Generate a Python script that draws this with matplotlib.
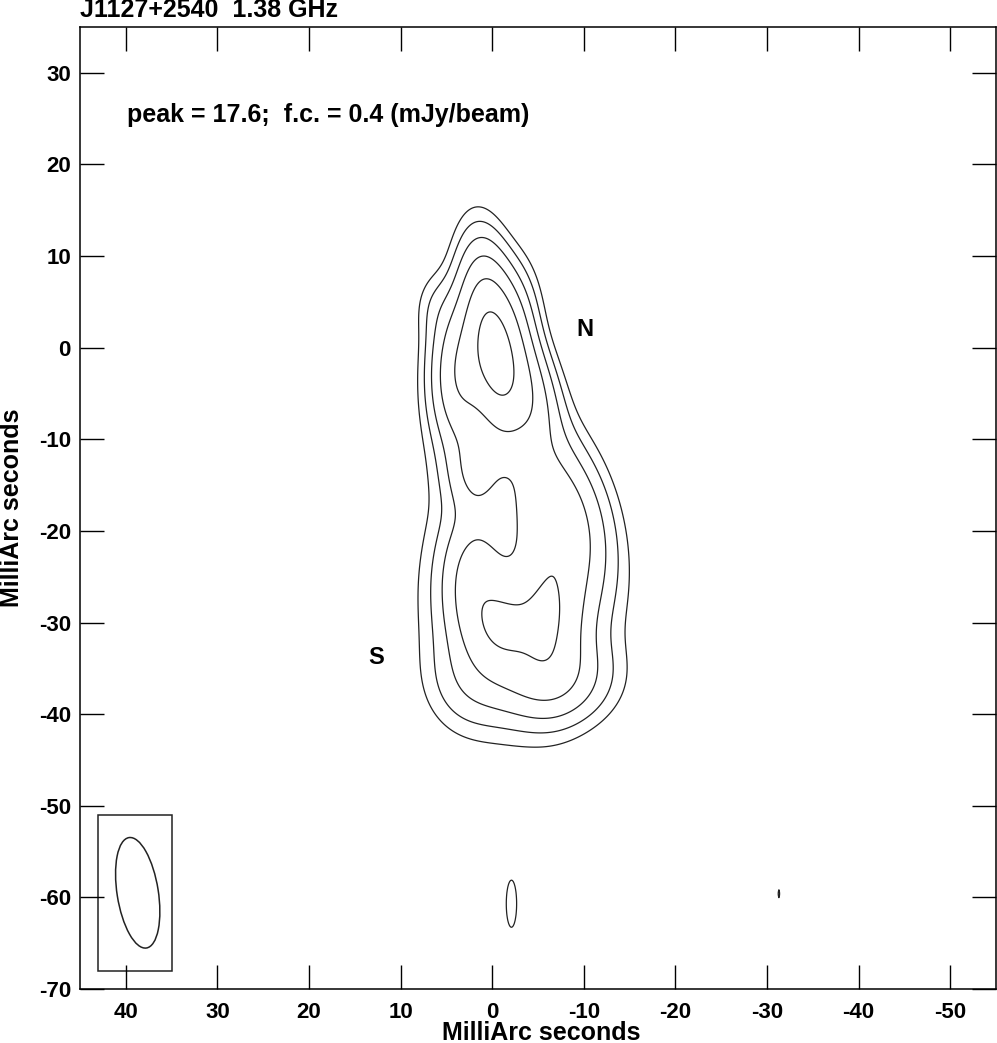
import numpy as np
import matplotlib
matplotlib.use("Agg")
import matplotlib.pyplot as plt
from matplotlib.patches import Ellipse, Rectangle

# ---------- data ----------
SOURCE = "J1127+2540"
FREQ = "1.38 GHz"
PEAK = 17.6          # mJy/beam
FIRST_CONTOUR = 0.4  # mJy/beam
LEVELS = [0.4, 0.8, 1.6, 3.2, 6.4, 12.8]

# restoring beam (FWHM, mas) and PA (deg, E of N)
BMAJ, BMIN, BPA = 12.2, 4.5, 9.0
BEAM_X, BEAM_Y = 38.7, -59.5

# Gaussian components making up the brightness (image plane, mas / mJy/beam)
# N: NE, NW, core, upper, shoulder, tail | bridge | S: W, E, east, south, broad, SE-low | halo | two noise peaks
comp_x   = [3.4, -3.5, -0.2, -2.5, 6.2, 1.8, -7.0, -6.2, -1.0, 2.0, -6.0, -3.0, 2.5, -1.0, -2.1, -31.3]
comp_y   = [-3.0, -4.5, -0.2, 3.0, 4.5, -13.5, -18.5, -29.5, -30.5, -25.5, -36.0, -29.0, -36.5, -20.0, -60.8, -59.6]
comp_amp = [6.0, 5.0, 14.5, 1.5, 0.45, 2.8, 5.0, 4.4, 4.0, 3.2, 2.5, 1.8, 0.8, 0.55, 0.44, 0.4015]
comp_sx  = [1.9, 1.9, 1.8, 1.7, 1.5, 1.9, 3.0, 2.4, 2.3, 2.1, 4.0, 5.5, 3.0, 6.0, 1.2, 1.0]
comp_sy  = [4.8, 4.5, 5.8, 4.0, 2.5, 3.0, 5.5, 4.6, 3.2, 4.5, 3.0, 6.5, 3.5, 14.0, 5.4, 5.0]
comp_pa  = [0, 15, 7, 0, 0, 0, 15, 0, 0, 0, 0, 0, 0, 8, 0, 0]

# component labels
lab_text = ["N", "S"]
lab_x    = [-10.1, 12.7]
lab_y    = [1.3, -34.5]

XLIM = (45, -55)
YLIM = (-70, 35)


def gauss(X, Y, x0, y0, amp, sx, sy, pa):
    t = np.radians(pa)
    dx, dy = X - x0, Y - y0
    u = dx * np.cos(t) - dy * np.sin(t)
    v = dx * np.sin(t) + dy * np.cos(t)
    return amp * np.exp(-0.5 * ((u / sx) ** 2 + (v / sy) ** 2))


xs = np.arange(-55, 45.001, 0.1)
ys = np.arange(-70, 35.001, 0.1)
X, Y = np.meshgrid(xs, ys)
img = np.zeros_like(X)
for c in zip(comp_x, comp_y, comp_amp, comp_sx, comp_sy, comp_pa):
    img += gauss(X, Y, *c)

plt.rcParams["font.family"] = ["Liberation Sans", "DejaVu Sans"]
plt.rcParams["font.weight"] = "bold"
plt.rcParams["axes.unicode_minus"] = False

fig = plt.figure(figsize=(9.97, 10.43), dpi=100)
ax = fig.add_axes([80 / 997, 1 - 989 / 1043, 916 / 997, 962 / 1043])

ax.contour(X, Y, img, levels=LEVELS, colors="#222222", linewidths=0.9)

# beam
ax.add_patch(Rectangle((35, -68), 8, 17, fill=False, edgecolor="#222222", lw=1.1))
ax.add_patch(Ellipse((BEAM_X, BEAM_Y), BMIN, BMAJ, angle=-BPA, fill=False,
                     edgecolor="#222222", lw=1.1))

for t, x, y in zip(lab_text, lab_x, lab_y):
    ax.text(x, y, t, ha="center", va="baseline", fontsize=17, fontweight="bold")

ax.text(39.9, 24.6, f"peak = {PEAK};  f.c. = {FIRST_CONTOUR} (mJy/beam)",
        ha="left", va="baseline", fontsize=18, fontweight="bold")

ax.set_xlim(*XLIM)
ax.set_ylim(*YLIM)
ax.set_xticks(np.arange(40, -51, -10))
ax.set_yticks(np.arange(30, -71, -10))
ax.tick_params(direction="in", length=17, width=1.0, top=True, right=True,
               labelsize=16)
ax.tick_params(axis="x", pad=9)
ax.tick_params(axis="y", pad=6.5)
for sp in ax.spines.values():
    sp.set_linewidth(1.1)

ax.set_xlabel("MilliArc seconds", fontsize=18, fontweight="bold")
ax.set_ylabel("MilliArc seconds", fontsize=18, fontweight="bold")
ax.xaxis.set_label_coords(0.504, -0.033)
ax.yaxis.set_label_coords(-0.0615, 0.5)

fig.text(80 / 997, 1 - 17 / 1043, f"{SOURCE}  {FREQ}", ha="left", va="baseline",
         fontsize=18, fontweight="bold")

fig.savefig("out.png", dpi=100)
